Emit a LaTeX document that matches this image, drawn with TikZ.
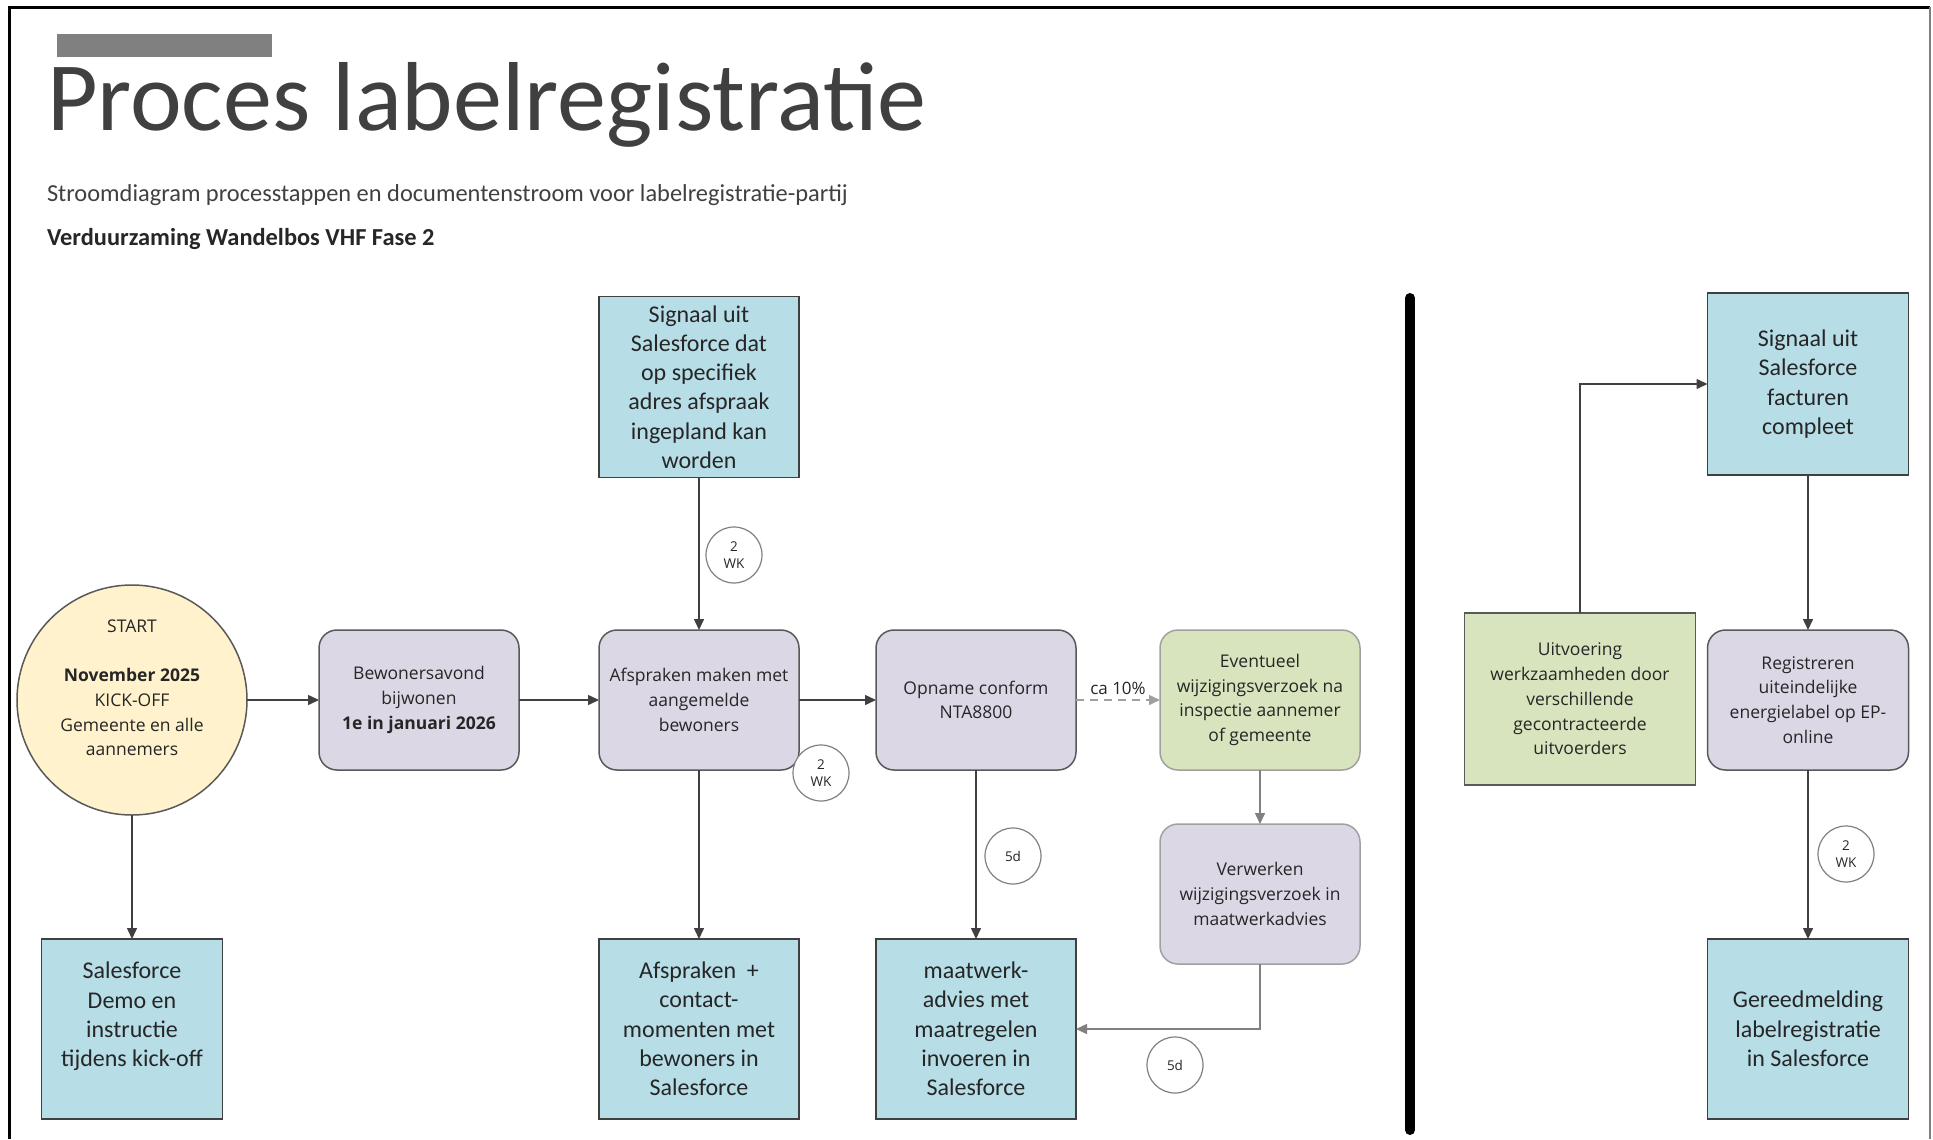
\documentclass[tikz,border=0pt]{standalone}
\usepackage{fontspec}
\setmainfont{Carlito}
\newfontfamily\segoe{Open Sans}
\usepackage{tikz}
\usetikzlibrary{arrows.meta}
\definecolor{pdfcolor1}{RGB}{64,64,64}
\definecolor{pdfcolor2}{RGB}{128,128,128}
\definecolor{pdfcolor3}{RGB}{183,221,231}
\definecolor{pdfcolor4}{RGB}{220,215,229}
\definecolor{pdfcolor5}{RGB}{255,242,204}
\definecolor{pdfcolor6}{RGB}{215,228,189}
\definecolor{pdfcolor7}{RGB}{38,38,38}
\definecolor{pdfcolor8}{RGB}{160,160,160}
\definecolor{pdfcolor9}{RGB}{89,89,89}

\begin{document}
\begin{tikzpicture}[x=1bp,y=-1bp,inner sep=0pt,outer sep=0pt,
  sfbox/.style={draw=pdfcolor1,fill=pdfcolor3,line width=1.5bp,minimum width=200bp,minimum height=181bp,
    align=center,text=pdfcolor7,font=\fontsize{24bp}{29.3bp}\selectfont},
  stapbox/.style={draw=pdfcolor9,fill=pdfcolor4,line width=1.5bp,rounded corners=18bp,minimum width=200bp,
    minimum height=140bp,align=center,text=pdfcolor7,font=\segoe\fontsize{17.5bp}{24.7bp}\selectfont},
  lichtrand/.style={draw=pdfcolor8},
  startcirkel/.style={circle,draw=pdfcolor9,fill=pdfcolor5,line width=1.5bp,minimum size=230bp,
    align=center,text=pdfcolor7,font=\segoe\fontsize{17.5bp}{24.7bp}\selectfont},
  tijd/.style={circle,draw=pdfcolor2,fill=white,line width=1.2bp,minimum size=56bp,align=center,
    text=pdfcolor7,font=\segoe\fontsize{13.5bp}{17bp}\selectfont},
  pijl/.style={draw=pdfcolor1,line width=1.5bp,-{Triangle[length=11bp,width=10bp]}},
  grijspijl/.style={draw=pdfcolor2,line width=1.5bp,-{Triangle[length=11bp,width=10bp]}}]
  \useasboundingbox (0,0) rectangle (1933,1139);
  % kader
  \draw[line width=3bp] (9,1139) -- (9,7) -- (1930,7);
  \draw[pdfcolor2,line width=2bp] (1930,7) -- (1930,1139);
  % kop
  \fill[pdfcolor2] (57,34) rectangle (272,57);
  \node[anchor=base west,text=pdfcolor1] (titel) at (47,130) {{\fontsize{98bp}{118bp}\selectfont Proces labelregistratie}};
  \node[anchor=base west,text=pdfcolor1] (subtitel) at (47,201) {{\fontsize{24.4bp}{29bp}\selectfont Stroomdiagram processtappen en documentenstroom voor labelregistratie-partij}};
  \node[anchor=base west,text=pdfcolor7] (project) at (47,245) {{\fontsize{24.4bp}{29bp}\selectfont \textbf{Verduurzaming Wandelbos VHF Fase 2}}};
  % scheiding
  \draw[line width=10bp,line cap=round] (1410,298) -- (1410,1130);
  % stappen
  \node[startcirkel] (start) at (132,700) {START\\[24.7bp]\textbf{November 2025}\\KICK-OFF\\Gemeente en alle\\aannemers\\};
  \node[stapbox] (bewoners) at (419,700) {Bewonersavond\\bijwonen\\\textbf{1e in januari 2026}};
  \node[sfbox] (signaal) at (699,387) {Signaal uit\\Salesforce dat\\op specifiek\\adres afspraak\\ingepland kan\\worden};
  \node[stapbox] (afspraken) at (699,700) {Afspraken maken met\\aangemelde\\bewoners};
  \node[stapbox] (opname) at (976,700) {Opname conform\\NTA8800};
  \node[stapbox,lichtrand,fill=pdfcolor6] (eventueel) at (1260,700) {Eventueel\\wijzigingsverzoek na\\inspectie aannemer\\of gemeente};
  \node[stapbox,lichtrand] (verwerken) at (1260,894) {Verwerken\\wijzigingsverzoek in\\maatwerkadvies};
  \node[sfbox,minimum width=181bp,minimum height=180bp] (demo) at (132,1029) {Salesforce\\Demo en\\instructie\\tijdens kick-off\\};
  \node[sfbox,minimum height=180bp] (contact) at (699,1029) {Afspraken\ \ +\\contact-\\momenten met\\bewoners in\\Salesforce};
  \node[sfbox,minimum height=180bp] (maatwerk) at (976,1029) {maatwerk-\\advies met\\maatregelen\\invoeren in\\Salesforce};
  \node[sfbox,minimum width=201bp,minimum height=182bp] (facturen) at (1808,384) {Signaal uit\\Salesforce\\facturen\\compleet};
  \node[stapbox,rounded corners=0pt,fill=pdfcolor6,minimum width=231bp,minimum height=172bp] (uitvoering) at (1580,699) {Uitvoering\\werkzaamheden door\\verschillende\\gecontracteerde\\uitvoerders};
  \node[stapbox,minimum width=201bp] (registreren) at (1808,700) {Registreren\\uiteindelijke\\energielabel op EP-\\online};
  \node[sfbox,minimum width=201bp,minimum height=180bp] (gereed) at (1808,1029) {Gereedmelding\\labelregistratie\\in Salesforce};
  % verbindingen
  \draw[pijl] (start) -- (bewoners);
  \draw[pijl] (start) -- (demo);
  \draw[pijl] (bewoners) -- (afspraken);
  \draw[pijl] (signaal) -- (afspraken);
  \draw[pijl] (afspraken) -- (opname);
  \draw[pijl] (afspraken) -- (contact);
  \draw[pijl] (opname) -- (maatwerk);
  \draw[grijspijl,pdfcolor8,dash pattern=on 8bp off 6bp] (opname) -- node[midway,above=5bp,text=pdfcolor7,font=\segoe\fontsize{17bp}{20bp}\selectfont] (tiental) {ca 10\%} (eventueel);
  \draw[grijspijl] (eventueel) -- (verwerken);
  \draw[grijspijl] (verwerken.south) |- (maatwerk.east);
  \draw[pijl] (uitvoering.north) |- (facturen.west);
  \draw[pijl] (facturen) -- (registreren);
  \draw[pijl] (registreren) -- (gereed);
  % doorlooptijden
  \node[tijd] (t1) at (734,555) {2\\WK};
  \node[tijd] (t2) at (821,773) {2\\WK};
  \node[tijd] (t3) at (1013,856) {5d};
  \node[tijd] (t4) at (1175,1065) {5d};
  \node[tijd] (t5) at (1846,854) {2\\WK};
\end{tikzpicture}
\end{document}
